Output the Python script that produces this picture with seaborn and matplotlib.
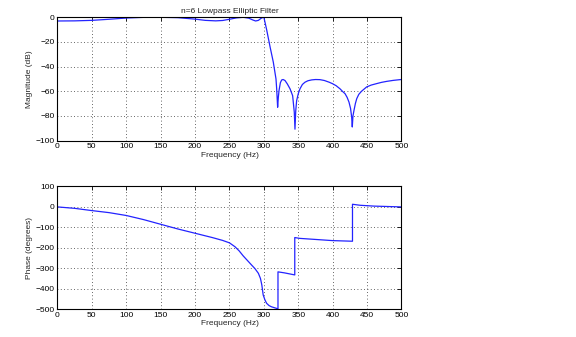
import matplotlib
matplotlib.use("Agg")
import matplotlib.pyplot as plt
import seaborn as sns
import pandas as pd

# Magnitude response (dB) of the 6th-order elliptic lowpass filter
mag_freq = [0, 25, 50, 75, 100, 125, 150, 175, 200, 215, 230, 240, 250, 260,
            270, 278, 284, 288, 292, 296, 299, 300, 304, 309, 313.7, 317.6,
            318.6, 320, 321, 322, 324, 326, 328, 330.7, 334, 338, 341.8,
            344.2, 345.2, 346.3, 347.6, 350, 352.5, 356, 359.7, 364, 369.5,
            375, 381.5, 388, 395, 399.5, 405, 410.6, 415, 418, 421, 423.7,
            426, 427.6, 428.5, 429.5, 431, 433, 435, 438, 442, 449.4, 456,
            464, 471, 478.5, 488, 497.8, 500]
mag_db = [-3.0, -2.9, -2.5, -1.6, -0.6, -0.05, 0.0, -0.3, -1.5, -2.5, -2.9,
          -2.6, -1.6, -0.5, 0.0, -0.7, -2.2, -3.0, -2.5, -0.8, 0.0, 0.0,
          -10, -24, -36.4, -50, -58, -73, -65, -59.5, -53, -50.8, -50.5,
          -51.3, -54, -58, -63.6, -77, -90.8, -76, -67.7, -62, -58, -54.5,
          -52.7, -51.5, -50.8, -50.5, -50.6, -51.3, -52.7, -53.8, -55.5,
          -58, -60.5, -62, -65, -68.8, -74, -81, -89, -80, -75.5, -70, -66,
          -62.5, -60, -56.5, -55, -53.8, -52.8, -52, -51.2, -50.6, -50.5]

# Phase response (degrees), with the +180 jumps at the stopband zeros
ph_freq = [0, 25, 50, 75, 100, 125, 150, 175, 200, 225, 240, 250, 258, 264,
           270, 276, 282, 287, 292, 295, 297, 299, 301.5, 304, 307.5, 311,
           318.6, 320.5, 320.5, 330, 344.9, 344.9, 352, 400, 428.8, 428.8,
           440, 460, 480, 500]
ph_deg = [0, -7, -18, -28, -42, -62, -85, -108, -129, -150, -164, -176, -195,
          -215, -240, -262, -284, -302, -325, -350, -382, -431, -455, -472,
          -483, -489, -497, -499, -318, -323, -333, -150, -154, -165, -168,
          13, 8, 4, 2, 0]

x_ticks = list(range(0, 501, 50))
mag_ticks = list(range(-100, 1, 20))
ph_ticks = list(range(-500, 101, 100))

sns.set_style("white")
plt.rcParams["font.family"] = ["Liberation Sans", "DejaVu Sans"]
plt.rcParams["font.size"] = 6

fig = plt.figure(figsize=(5.76, 3.37), dpi=100)
ax1 = fig.add_axes([0.0998, 0.583, 0.5972, 0.3657])
ax2 = fig.add_axes([0.0998, 0.083, 0.5972, 0.3636])

mag_df = pd.DataFrame({"f": mag_freq, "v": mag_db})
ph_df = pd.DataFrame({"f": ph_freq, "v": ph_deg})

sns.lineplot(data=mag_df, x="f", y="v", ax=ax1, color="#2323ff", lw=0.9,
             estimator=None, sort=False)
sns.lineplot(data=ph_df, x="f", y="v", ax=ax2, color="#2323ff", lw=0.9,
             estimator=None, sort=False)

for ax, yt, ylab in [(ax1, mag_ticks, "Magnitude (dB)"),
                     (ax2, ph_ticks, "Phase (degrees)")]:
    ax.set_xlim(0, 500)
    ax.set_ylim(yt[0], yt[-1])
    ax.set_xticks(x_ticks)
    ax.set_yticks(yt)
    ax.set_xlabel("Frequency (Hz)", fontsize=6, labelpad=1)
    ax.set_ylabel(ylab, fontsize=6, labelpad=2)
    ax.grid(True, color="#333333", linestyle=(0, (1, 3)), linewidth=0.6)
    ax.tick_params(direction="in", length=3, width=0.6, labelsize=6,
                   top=True, right=True, pad=2, colors="black")
    for s in ax.spines.values():
        s.set_color("black")
        s.set_linewidth(0.8)

ax1.set_title("n=6 Lowpass Elliptic Filter", fontsize=6, pad=3)

fig.savefig("out.png", dpi=100)
